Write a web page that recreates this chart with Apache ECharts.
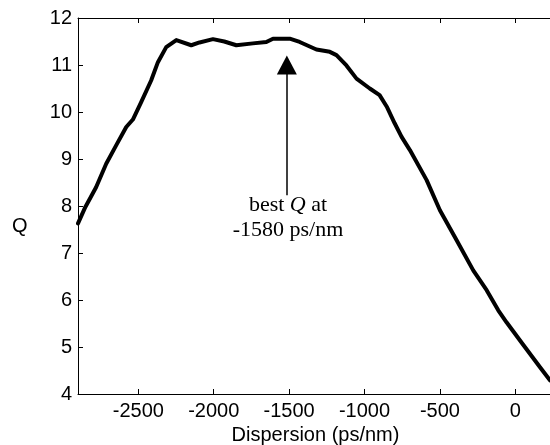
<!DOCTYPE html>
<html>
<head>
<meta charset="utf-8">
<script src="https://cdn.jsdelivr.net/npm/echarts@6/dist/echarts.min.js"></script>
<style>html,body{margin:0;padding:0;background:#fff}#c{width:550px;height:445px}</style>
</head>
<body>
<div id="c"></div>
<script>
var dispersion = [-2900,-2851,-2780,-2713,-2647,-2580,-2536,-2481,-2415,-2370,-2315,-2248,-2149,-2094,-2005,-1930,-1850,-1740,-1651,-1607,-1496,-1430,-1319,-1230,-1186,-1120,-1053,-965,-900,-850,-800,-754,-699,-588,-500,-389,-279,-190,-113,-57,40,164,230];
var qValues = [7.63,7.98,8.40,8.90,9.29,9.68,9.84,10.21,10.67,11.06,11.38,11.53,11.42,11.48,11.55,11.50,11.42,11.46,11.49,11.56,11.56,11.49,11.33,11.28,11.21,10.99,10.71,10.50,10.36,10.10,9.76,9.47,9.19,8.55,7.91,7.27,6.63,6.21,5.78,5.52,5.10,4.57,4.29];
var xTicks = [-2500,-2000,-1500,-1000,-500,0];
var yTicks = [4,5,6,7,8,9,10,11,12];
var arrowX = -1515;
var arrowY = [8.23, 11.0];
var annotation = ['best ', 'Q', ' at', '-1580 ps/nm'];

var pts = dispersion.map(function(x,i){return [x, qValues[i]];});
var chart = echarts.init(document.getElementById('c'), null, {renderer:'canvas'});
var axisFont = {fontFamily:'Liberation Sans, Arial, sans-serif', fontSize:20, color:'#000'};
chart.setOption({
  animation:false,
  backgroundColor:'#fff',
  grid:{left:78, top:18, bottom:51, right:-3, outerBoundsMode:'none', containLabel:false},
  xAxis:[{
    type:'value', min:-2900, max:250,
    axisLine:{show:true, lineStyle:{color:'#000', width:1}},
    axisTick:{show:true, inside:true, length:5, lineStyle:{color:'#000'}, customValues:xTicks},
    axisLabel:Object.assign({customValues:xTicks, margin:7, formatter:function(v){return String(v);}}, axisFont),
    splitLine:{show:false},
    name:'Dispersion (ps/nm)', nameLocation:'middle', nameGap:31,
    nameTextStyle:axisFont
  },{
    type:'value', position:'top', min:-2900, max:250,
    axisLine:{show:true, onZero:false, lineStyle:{color:'#000', width:1}},
    axisTick:{show:true, inside:true, length:5, lineStyle:{color:'#000'}, customValues:xTicks},
    axisLabel:{show:false}, splitLine:{show:false}
  }],
  yAxis:{
    type:'value', min:4, max:12, interval:1,
    axisLine:{show:true, onZero:false, lineStyle:{color:'#000', width:1}},
    axisTick:{show:true, inside:true, length:5, lineStyle:{color:'#000'}},
    axisLabel:Object.assign({margin:6, formatter:function(v){return String(v);}}, axisFont),
    splitLine:{show:false}
  },
  graphic:[
    {type:'text', left:12, top:216, style:{text:'Q', font:'20px "Liberation Sans", Arial, sans-serif', fill:'#000'}},
    {type:'text', x:288, y:205, style:{text:'{a|'+annotation[0]+'}{q|'+annotation[1]+'}{a|'+annotation[2]+'}', align:'center', verticalAlign:'middle',
      rich:{a:{fontFamily:'Liberation Serif, Times New Roman, serif', fontSize:22, fill:'#000'}, q:{fontFamily:'Liberation Serif, Times New Roman, serif', fontSize:22, fontStyle:'italic', fill:'#000'}}}},
    {type:'text', x:288, y:230, style:{text:annotation[3], align:'center', verticalAlign:'middle', font:'22px "Liberation Serif", "Times New Roman", serif', fill:'#000'}}
  ],
  series:[{
    type:'line', data:pts, xAxisIndex:0, showSymbol:false, smooth:false,
    lineStyle:{color:'#000', width:4, join:'round', cap:'round'}, clip:true,
    markLine:{
      silent:true, symbol:['none','triangle'], symbolSize:[20,19],
      lineStyle:{color:'#000', width:1.5, type:'solid'},
      label:{show:false},
      data:[[{coord:[arrowX, arrowY[0]]},{coord:[arrowX, arrowY[1]]}]]
    }
  }]
});
</script>
</body>
</html>
